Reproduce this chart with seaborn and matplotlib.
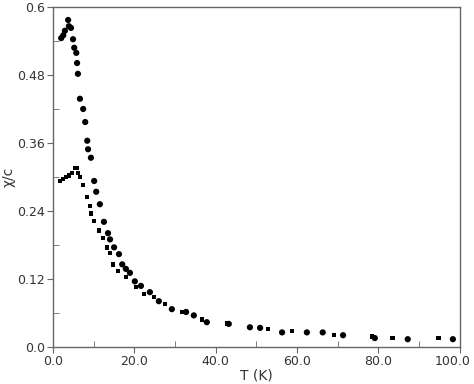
import pandas as pd
import matplotlib.pyplot as plt
import matplotlib.transforms as mtransforms
import seaborn as sns
from matplotlib.ticker import MultipleLocator, FormatStrFormatter

# Circle series (upper curve)
t_circle = [2.0, 2.5, 2.9, 3.7, 3.9, 4.4, 4.9, 5.2, 5.7, 5.9, 6.1, 6.6, 7.4, 7.9,
            8.4, 8.6, 9.3, 10.1, 10.6, 11.5, 12.5, 13.5, 14.0, 15.0, 16.2, 17.0,
            17.9, 18.9, 20.1, 21.6, 23.8, 26.0, 29.2, 32.7, 34.6, 37.8, 43.2,
            48.4, 50.9, 56.3, 62.4, 66.3, 71.3, 79.1, 87.2, 98.3]
chi_circle = [0.545, 0.550, 0.558, 0.577, 0.566, 0.563, 0.543, 0.528, 0.519, 0.501,
              0.482, 0.438, 0.420, 0.397, 0.364, 0.349, 0.334, 0.293, 0.274, 0.252,
              0.221, 0.201, 0.190, 0.176, 0.164, 0.146, 0.138, 0.131, 0.116, 0.108,
              0.097, 0.081, 0.067, 0.062, 0.056, 0.044, 0.041, 0.035, 0.034, 0.026,
              0.026, 0.026, 0.021, 0.016, 0.014, 0.014]

# Square series (lower curve)
t_square = [1.7, 2.5, 3.2, 3.9, 4.7, 5.4, 5.9, 6.1, 6.6, 7.4, 8.4, 9.1, 9.3, 10.1,
            11.3, 12.3, 13.3, 14.0, 14.7, 16.0, 17.9, 20.4, 22.4, 24.8, 27.5,
            31.7, 36.6, 42.8, 52.8, 58.7, 69.0, 78.4, 83.5, 94.8]
chi_square = [0.293, 0.296, 0.300, 0.303, 0.307, 0.316, 0.316, 0.307, 0.300, 0.286,
              0.265, 0.249, 0.236, 0.222, 0.206, 0.192, 0.176, 0.166, 0.146, 0.134,
              0.124, 0.106, 0.094, 0.088, 0.076, 0.062, 0.049, 0.042, 0.032, 0.028,
              0.021, 0.019, 0.016, 0.016]

df = pd.concat([
    pd.DataFrame({"T": t_circle, "chi": chi_circle, "set": "circle"}),
    pd.DataFrame({"T": t_square, "chi": chi_square, "set": "square"}),
])

sns.set_style("ticks")
plt.rcParams["font.family"] = ["DejaVu Sans"]

fig = plt.figure(figsize=(4.74, 3.84), dpi=100)
ax = fig.add_axes([0.112, 0.096, 0.858, 0.886])

sns.scatterplot(data=df[df["set"] == "circle"], x="T", y="chi", marker="o",
                s=20, color="black", edgecolor="none", ax=ax)
sns.scatterplot(data=df[df["set"] == "square"], x="T", y="chi", marker="s",
                s=10, color="black", edgecolor="none", ax=ax)

ax.set_xlim(0, 100)
ax.set_ylim(0, 0.6)
ax.xaxis.set_major_locator(MultipleLocator(20))
ax.xaxis.set_minor_locator(MultipleLocator(10))
ax.yaxis.set_major_locator(MultipleLocator(0.12))
ax.yaxis.set_minor_locator(MultipleLocator(0.06))
ax.xaxis.set_major_formatter(FormatStrFormatter("%.1f"))
ax.yaxis.set_major_formatter(lambda v, p: "0.0" if v == 0 else ("0.6" if abs(v - 0.6) < 1e-9 else f"{v:.2f}"))

for s in ax.spines.values():
    s.set_visible(True)
    s.set_color("#666666")
    s.set_linewidth(1.0)
ax.tick_params(which="major", direction="out", length=4, pad=2, color="#666666",
               labelsize=9, labelcolor="#333333")
ax.tick_params(which="minor", direction="in", length=4, color="#666666")

ax.set_xlabel("T (K)", fontsize=10, color="#333333", labelpad=0)
ax.set_ylabel("χ/c", fontsize=10, color="#333333", labelpad=1)

# nudge the "100.0" label left so it stays inside the image
fig.canvas.draw()
last = ax.xaxis.get_major_ticks()[-1]
for t in ax.xaxis.get_major_ticks():
    if abs(t.get_loc() - 100) < 1e-6:
        last = t
shift = mtransforms.ScaledTranslation(-5 / 72, 0, fig.dpi_scale_trans)
last.label1.set_transform(last.label1.get_transform() + shift)

fig.savefig("out.png", dpi=100)
